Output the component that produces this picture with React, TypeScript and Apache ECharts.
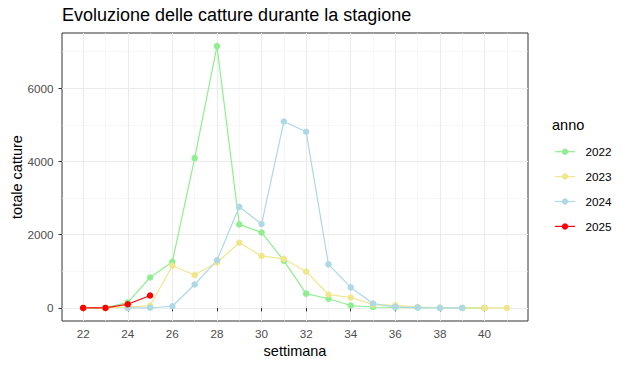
import React, { useEffect, useRef } from "react";
import * as echarts from "echarts";

const TITLE = "Evoluzione delle catture durante la stagione";
const X_TITLE = "settimana";
const Y_TITLE = "totale catture";
const LEGEND_TITLE = "anno";

const years = ["2022", "2023", "2024", "2025"];
const colors = ["#90EE90", "#F0E68C", "#ADD8E6", "#FF0000"];

const weeks2022 = [22, 23, 24, 25, 26, 27, 28, 29, 30, 31, 32, 33, 34, 35, 36, 37, 38, 39, 40];
const values2022 = [0, 0, 150, 830, 1260, 4090, 7150, 2280, 2060, 1290, 390, 250, 65, 25, 15, 10, 5, 0, 0];

const weeks2023 = [22, 23, 24, 25, 26, 27, 28, 29, 30, 31, 32, 33, 34, 35, 36, 37, 38, 39, 40, 41];
const values2023 = [0, 0, 20, 60, 1150, 900, 1240, 1780, 1420, 1340, 990, 365, 285, 90, 70, 25, 5, 0, 0, 0];

const weeks2024 = [24, 25, 26, 27, 28, 29, 30, 31, 32, 33, 34, 35, 36, 37, 38, 39];
const values2024 = [0, 5, 45, 640, 1300, 2760, 2290, 5090, 4810, 1190, 560, 120, 30, 10, 0, 0];

const weeks2025 = [22, 23, 24, 25];
const values2025 = [0, 0, 100, 340];

const xMajor = [22, 24, 26, 28, 30, 32, 34, 36, 38, 40];
const xMinor = [21, 23, 25, 27, 29, 31, 33, 35, 37, 39, 41];
const yMajor = [0, 2000, 4000, 6000];
const yMinor = [1000, 3000, 5000, 7000];

const X_MIN = 21.05;
const X_MAX = 41.95;
const Y_MIN = -357.5;
const Y_MAX = 7507.5;

const seriesWeeks = [weeks2022, weeks2023, weeks2024, weeks2025];
const seriesValues = [values2022, values2023, values2024, values2025];

const FONT = "Liberation Sans, Arial, sans-serif";

export default function App() {
  const ref = useRef<HTMLDivElement>(null);

  useEffect(() => {
    if (!ref.current) return;
    const chart = echarts.init(ref.current, null, { renderer: "svg" });

    const pairs = seriesWeeks.map((w, i) => w.map((x, j) => [x, seriesValues[i][j]]));

    const lineSeries = years.map((y, i) => ({
      name: y,
      type: "line",
      xAxisIndex: 0,
      yAxisIndex: 0,
      data: pairs[i],
      showSymbol: false,
      symbol: "none",
      lineStyle: { color: colors[i], width: 1.2 },
      itemStyle: { color: colors[i] },
      z: 3,
    }));
    const pointSeries = years.map((y, i) => ({
      name: y + "-pt",
      type: "scatter",
      xAxisIndex: 0,
      yAxisIndex: 0,
      data: pairs[i],
      symbol: "circle",
      symbolSize: 6.5,
      itemStyle: { color: colors[i], opacity: 1 },
      z: 4,
    }));

    const legendX = 555;
    const legendTop = 151.7;
    const legendStep = 24.9;
    const legendGraphics: any[] = [
      {
        type: "text",
        left: 552,
        top: 117,
        style: { text: LEGEND_TITLE, fontSize: 14.5, fontFamily: FONT, fill: "#000" },
      },
    ];
    years.forEach((y, i) => {
      const cy = legendTop + i * legendStep;
      legendGraphics.push({
        type: "line",
        shape: { x1: legendX, y1: cy, x2: legendX + 20, y2: cy },
        style: { stroke: colors[i], lineWidth: 1.2 },
      });
      legendGraphics.push({
        type: "circle",
        shape: { cx: legendX + 10, cy, r: 3.2 },
        style: { fill: colors[i] },
      });
      legendGraphics.push({
        type: "text",
        x: 585.5,
        y: cy,
        style: {
          text: y,
          fontSize: 11.7,
          fontFamily: FONT,
          fill: "#000",
          textVerticalAlign: "middle",
        },
      });
    });

    const fmt = (v: number) => String(v);

    const option: any = {
      animation: false,
      backgroundColor: "#fff",
      title: {
        text: TITLE,
        left: 62,
        top: 6,
        padding: 0,
        textStyle: { fontSize: 18, fontWeight: "normal", color: "#000", fontFamily: FONT },
      },
      grid: [
        {
          left: 62,
          top: 33,
          right: 102,
          bottom: 46,
          show: true,
          borderColor: "#333333",
          borderWidth: 1,
          backgroundColor: "transparent",
          containLabel: false,
          outerBoundsMode: "none",
        },
      ],
      xAxis: [
        {
          type: "value",
          min: X_MIN,
          max: X_MAX,
          name: X_TITLE,
          nameLocation: "middle",
          nameGap: 22,
          nameMoveOverlap: false,
          nameTextStyle: { fontSize: 14.5, color: "#000", fontFamily: FONT },
          axisLine: { show: false },
          axisTick: { show: true, length: 3.5, lineStyle: { color: "#333", width: 1 }, customValues: xMajor },
          axisLabel: {
            show: true,
            customValues: xMajor,
            formatter: fmt,
            margin: 6.5,
            fontSize: 11.7,
            color: "#4D4D4D",
            fontFamily: FONT,
          },
          splitLine: { show: true, lineStyle: { color: "#EBEBEB", width: 1.1 } },
          z: 1,
        },
        {
          type: "value",
          min: X_MIN,
          max: X_MAX,
          axisLine: { show: false },
          axisTick: { show: false, customValues: xMinor },
          axisLabel: { show: false, customValues: xMinor },
          splitLine: { show: true, lineStyle: { color: "#F2F2F2", width: 0.6 } },
          z: 0,
        },
      ],
      yAxis: [
        {
          type: "value",
          min: Y_MIN,
          max: Y_MAX,
          name: Y_TITLE,
          nameLocation: "middle",
          nameGap: 38,
          nameMoveOverlap: false,
          nameTextStyle: { fontSize: 14.5, color: "#000", fontFamily: FONT },
          axisLine: { show: false },
          axisTick: { show: true, length: 3.5, lineStyle: { color: "#333", width: 1 }, customValues: yMajor },
          axisLabel: {
            show: true,
            customValues: yMajor,
            formatter: fmt,
            margin: 8.5,
            fontSize: 11.7,
            color: "#4D4D4D",
            fontFamily: FONT,
          },
          splitLine: { show: true, lineStyle: { color: "#EBEBEB", width: 1.1 } },
          z: 1,
        },
        {
          type: "value",
          min: Y_MIN,
          max: Y_MAX,
          axisLine: { show: false },
          axisTick: { show: false, customValues: yMinor },
          axisLabel: { show: false, customValues: yMinor },
          splitLine: { show: true, lineStyle: { color: "#F2F2F2", width: 0.6 } },
          z: 0,
        },
      ],
      series: [...lineSeries, ...pointSeries],
      graphic: legendGraphics,
    };

    chart.setOption(option);
    return () => chart.dispose();
  }, []);

  return <div ref={ref} style={{ width: 630, height: 367, margin: -8 }} />;
}
